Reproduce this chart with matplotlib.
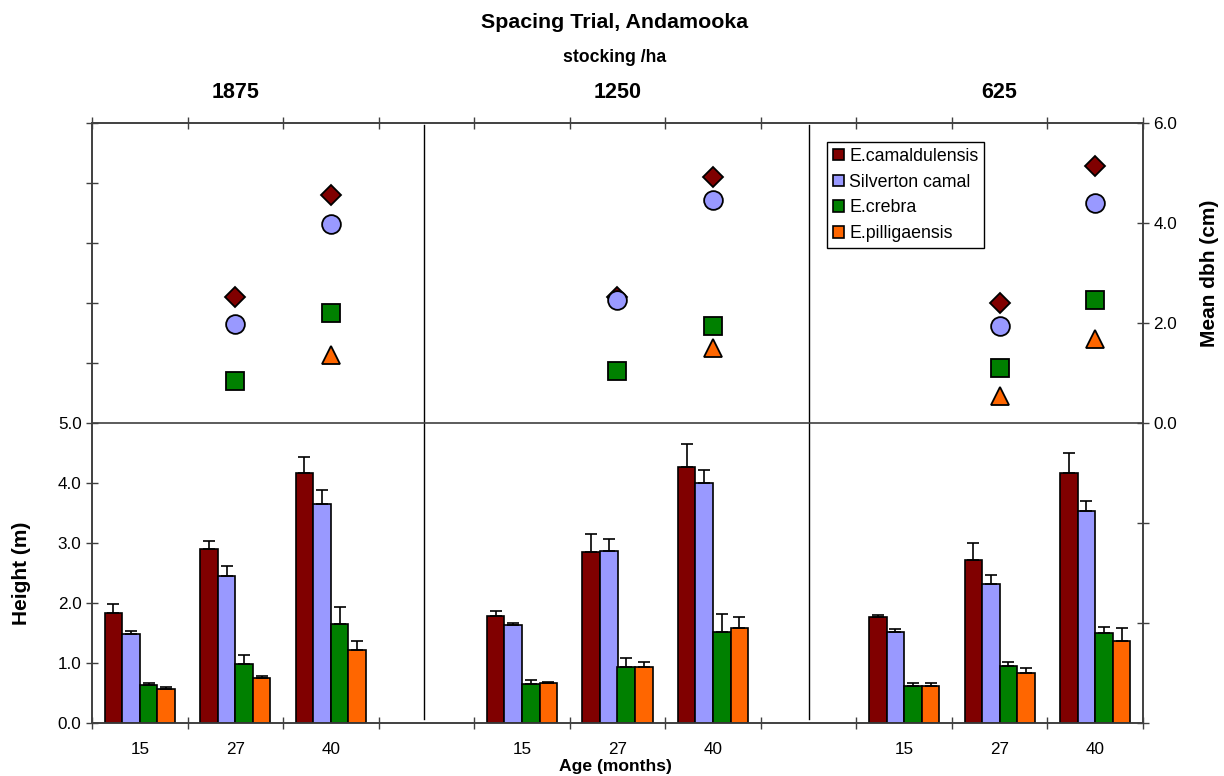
import numpy as np
import matplotlib
matplotlib.use("Agg")
import matplotlib.pyplot as plt
from matplotlib.patches import Patch

plt.rcParams["font.family"] = ["Liberation Sans", "DejaVu Sans"]

# ── Data ─────────────────────────────────────────────────────────────────────
STOCKING = ["1875", "1250", "625"]
AGES     = ["15", "27", "40"]
SPECIES  = ["E.camaldulensis", "Silverton camal", "E.crebra", "E.pilligaensis"]
COLORS   = ["#800000", "#9999FF", "#008000", "#FF6600"]
MARKERS  = ["D", "o", "s", "^"]

# heights (m), order: 1875 x (15, 27, 40), 1250 x (...), 625 x (...)
camal_ht  = [1.84, 2.90, 4.17, 1.78, 2.85, 4.27, 1.77, 2.72, 4.17]
silv_ht   = [1.48, 2.45, 3.65, 1.63, 2.86, 4.00, 1.51, 2.31, 3.54]
crebra_ht = [0.63, 0.98, 1.65, 0.65, 0.93, 1.52, 0.61, 0.95, 1.50]
pilli_ht  = [0.56, 0.75, 1.21, 0.66, 0.93, 1.59, 0.61, 0.83, 1.37]

# upper error bars (m)
camal_se  = [0.14, 0.13, 0.26, 0.08, 0.30, 0.38, 0.03, 0.28, 0.33]
silv_se   = [0.05, 0.17, 0.23, 0.04, 0.20, 0.22, 0.05, 0.15, 0.16]
crebra_se = [0.04, 0.16, 0.28, 0.07, 0.15, 0.29, 0.05, 0.06, 0.10]
pilli_se  = [0.04, 0.04, 0.15, 0.03, 0.09, 0.17, 0.06, 0.09, 0.21]

# mean dbh (cm), NaN where not measured
nan = np.nan
camal_dbh  = [nan, 2.53, 4.57, nan, 2.53, 4.92, nan, 2.41, 5.14]
silv_dbh   = [nan, 1.99, 3.98, nan, 2.47, 4.46, nan, 1.95, 4.41]
crebra_dbh = [nan, 0.84, 2.21, nan, 1.05, 1.95, nan, 1.11, 2.46]
pilli_dbh  = [nan, nan, 1.37, nan, nan, 1.50, nan, 0.55, 1.68]

HEIGHTS = [camal_ht, silv_ht, crebra_ht, pilli_ht]
ERRORS  = [camal_se, silv_se, crebra_se, pilli_se]
DBH     = [camal_dbh, silv_dbh, crebra_dbh, pilli_dbh]

# ── Layout ──────────────────────────────────────────────────────────────────
W, H = 1224, 776
AX_L, AX_R, AX_T, AX_B = 92, 1143, 123, 723
AXIS_COL = "#404040"

# one empty slot between stocking groups
centers = np.array([g * 4 + a + 0.5 for g in range(len(STOCKING)) for a in range(len(AGES))])
bar_w = 0.184

fig = plt.figure(figsize=(W / 100, H / 100), dpi=100)
ax = fig.add_axes([AX_L / W, 1 - AX_B / H, (AX_R - AX_L) / W, (AX_B - AX_T) / H])

for i, (ht, se, col) in enumerate(zip(HEIGHTS, ERRORS, COLORS)):
    x = centers + (i - 1.5) * bar_w
    ax.bar(x, ht, width=bar_w, color=col, edgecolor="black", linewidth=1.2, zorder=3)
    ax.errorbar(x, ht, yerr=[np.zeros(len(se)), se], fmt="none", ecolor="black",
                elinewidth=1.2, capsize=4, capthick=1.2, zorder=4)

ax.set_xlim(0, 11)
ax.set_ylim(0, 10)

# group dividers and the mid line
for xd in (3.48, 7.5):
    ax.axvline(xd, ymin=0.006, ymax=0.997, color="black", linewidth=1, zorder=2)
ax.axhline(5, color=AXIS_COL, linewidth=1.2, zorder=2)

# x ticks: slot boundaries (no labels), ages at slot centres
ax.set_xticks(np.arange(0, 12))
ax.set_xticklabels([])
ax.set_xticks(centers, minor=True)
ax.set_xticklabels(AGES * len(STOCKING), minor=True, fontsize=12.3)
ax.tick_params(axis="x", which="major", direction="inout", length=9, width=1,
               color=AXIS_COL, top=True)
ax.tick_params(axis="x", which="minor", length=0, pad=14)

ax.set_yticks(np.arange(0, 11))
ax.set_yticklabels([f"{v:.1f}" if v <= 5 else "" for v in range(11)], fontsize=12.3)
ax.tick_params(axis="y", direction="inout", length=9, width=1, color=AXIS_COL, pad=3)

for sp in ax.spines.values():
    sp.set_color(AXIS_COL)
    sp.set_linewidth(1.2)

ax.set_ylabel("Height (m)", fontsize=15, fontweight="bold")
ax.yaxis.set_label_coords((31 - AX_L) / (AX_R - AX_L), 0.25)

# ── dbh markers on the right axis ───────────────────────────────────────────
ax2 = ax.twinx()
ax2.set_ylim(-6, 6)
msizes = {"D": 10, "o": 13.5, "s": 13, "^": 13}
for dbh, col, mk in zip(DBH, COLORS, MARKERS):
    ax2.plot(centers, dbh, linestyle="none", marker=mk, markersize=msizes[mk],
             markerfacecolor=col, markeredgecolor="black", markeredgewidth=1.3, zorder=5)

ax2.set_yticks(np.arange(-6, 7, 2))
ax2.set_yticklabels([f"{v:.1f}" if v >= 0 else "" for v in range(-6, 7, 2)], fontsize=12.3)
ax2.tick_params(axis="y", direction="inout", length=9, width=1, color=AXIS_COL, pad=3)
for sp in ax2.spines.values():
    sp.set_color(AXIS_COL)
    sp.set_linewidth(1.2)
ax2.set_ylabel("Mean dbh (cm)", fontsize=15, fontweight="bold")
ax2.yaxis.set_label_coords((1200 - AX_L) / (AX_R - AX_L), 0.75)

handles = [Patch(facecolor=c, edgecolor="black", linewidth=1.2) for c in COLORS]
leg = ax2.legend(handles, SPECIES, loc="upper left",
                 bbox_to_anchor=((827 - AX_L) / (AX_R - AX_L), (AX_B - 142) / (AX_B - AX_T)),
                 borderaxespad=0, fontsize=12.8, fancybox=False, framealpha=1,
                 edgecolor="black", handlelength=0.62, handleheight=0.62,
                 handletextpad=0.3, labelspacing=0.5, borderpad=0.32)
leg.get_frame().set_linewidth(1)

# ── Titles ──────────────────────────────────────────────────────────────────
fig.text(615 / W, 1 - 23 / H, "Spacing Trial, Andamooka", ha="center", va="center",
         fontsize=15.4, fontweight="bold")
fig.text(615 / W, 1 - 57 / H, "stocking /ha", ha="center", va="center",
         fontsize=12.7, fontweight="bold")
for g, lab in enumerate(STOCKING):
    ax.text(centers[g * 3 + 1], (AX_B - 92) / (AX_B - AX_T), lab,
            transform=ax.get_xaxis_transform(), ha="center", va="center",
            fontsize=15.5, fontweight="bold")
fig.text(615 / W, 1 - 766 / H, "Age (months)", ha="center", va="center",
         fontsize=12.6, fontweight="bold")

fig.savefig("out.png", dpi=100)
